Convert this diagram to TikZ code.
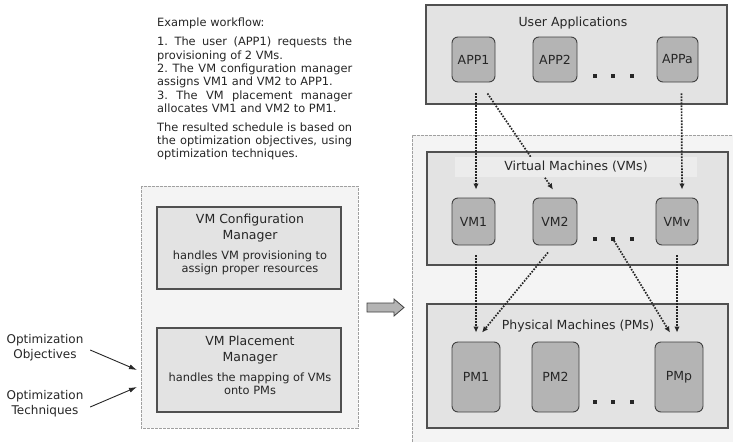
\documentclass[tikz,border=0pt]{standalone}
\usepackage{fontspec}
\setmainfont{DejaVu Sans}
\usetikzlibrary{arrows.meta}
\definecolor{contfill}{HTML}{F4F4F4}
\definecolor{contline}{HTML}{A0A0A0}
\definecolor{panelfill}{HTML}{E3E3E3}
\definecolor{panelline}{HTML}{505050}
\definecolor{bandfill}{HTML}{ECECEC}
\definecolor{itemfill}{HTML}{B4B4B4}
\definecolor{itemline}{HTML}{404040}
\frenchspacing
\begin{document}
\begin{tikzpicture}[x=1pt,y=-1pt,
 container/.style={fill=contfill, draw=contline, line width=0.8pt, dash pattern=on 3pt off 1pt},
 panel/.style={draw=panelline, fill=panelfill, line width=1.2pt, inner sep=0pt},
 item/.style={draw=itemline, fill=itemfill, line width=0.9pt, rounded corners=6pt, inner sep=0pt, font=\fontsize{12.5}{15}\selectfont, text=black!85},
 ttl/.style={font=\fontsize{12.5}{15.5}\selectfont, align=center, inner sep=0pt, text=black!85},
 body/.style={font=\fontsize{11.4}{13.3}\selectfont, align=center, inner sep=0pt, text=black!85},
 wf/.style={font=\fontsize{11.4}{13.4}\selectfont, anchor=base west, inner sep=0pt, text=black!85},
 sq/.style={fill=black!85, minimum size=3.2pt, inner sep=0pt},
 flow/.style={line width=1.7pt, black!85, dash pattern=on 1.6pt off 1.4pt, -{Latex[length=6pt,width=5.5pt]}},
 lab/.style={font=\fontsize{12}{15}\selectfont, align=center, inner sep=2pt, text=black!85},
 inarrow/.style={line width=0.9pt, black!85, -{Latex[length=8pt,width=5pt]}}
]
\useasboundingbox (0,0) rectangle (733,442);
\fill[white] (0,0) rectangle (733,442);

% ---------- workflow text ----------
\node[wf] (w0) at (157,26.7) {Example workflow:};
\node[wf] (w1) at (157,45.7) {\makebox[195pt][s]{1. The user (APP1) requests the}};
\node[wf] (w2) at (157,59.1) {provisioning of 2 VMs.};
\node[wf] (w3) at (157,72.5) {\makebox[195pt][s]{2. The VM configuration manager}};
\node[wf] (w4) at (157,85.9) {assigns VM1 and VM2 to APP1.};
\node[wf] (w5) at (157,99.3) {\makebox[195pt][s]{3. The VM placement manager}};
\node[wf] (w6) at (157,112.7) {allocates VM1 and VM2 to PM1.};
\node[wf] (w7) at (157,131) {\makebox[195pt][s]{The resulted schedule is based on}};
\node[wf] (w8) at (157,144.4) {\makebox[195pt][s]{the optimization objectives, using}};
\node[wf] (w9) at (157,157.8) {optimization techniques.};

% ---------- left container ----------
\draw[container] (141,186) rectangle (358,428);
\node[panel, minimum width=184pt, minimum height=82pt] (cfg) at (249,248) {};
\node[ttl] (cfgt) at (250,228) {VM Configuration\\Manager};
\node[body] (cfgb) at (250,262.5) {handles VM provisioning to\\assign proper resources};
\node[panel, minimum width=184pt, minimum height=84pt] (plc) at (249,370) {};
\node[ttl] (plct) at (250,350) {VM Placement\\Manager};
\node[body] (plcb) at (250,384) {handles the mapping of VMs\\onto PMs};

% ---------- optimization inputs ----------
\node[lab] (obj) at (45,348) {Optimization\\Objectives};
\node[lab] (tech) at (45,404) {Optimization\\Techniques};
\coordinate (objtip) at (137,370);
\coordinate (techtip) at (137,387);
\draw[inarrow] ([shift={(4.6,2)}]obj.east) -- (objtip);
\draw[inarrow] ([shift={(4.6,3)}]tech.east) -- (techtip);

% ---------- big hollow arrow ----------
\draw[fill=itemfill, draw=itemline, line width=0.8pt] (367,303) -- (394,303) -- (394,299) -- (404,307.5) -- (394,316) -- (394,312) -- (367,312) -- cycle;

% ---------- right container ----------
\fill[contfill] (412,135) rectangle (733,442);
\draw[contline, line width=0.8pt, dash pattern=on 3pt off 1pt] (412,442) -- (412,135) -- (733,135);

% User applications
\node[panel, minimum width=301pt, minimum height=99pt] (UA) at (576.5,54.5) {};
\node[ttl] (UAt) at (573,23) {User Applications};
\node[item, minimum width=43pt, minimum height=45pt] (APP1) at (473.5,59.5) {APP1};
\node[item, minimum width=44pt, minimum height=45pt] (APP2) at (555,59.5) {APP2};
\node[item, minimum width=41pt, minimum height=45pt] (APPa) at (677.5,59.5) {APPa};
\node[sq] (ad1) at (595,76) {};
\node[sq] (ad2) at (613,76) {};
\node[sq] (ad3) at (632,76) {};

% Virtual machines
\node[panel, minimum width=301pt, minimum height=113pt] (VMP) at (577.5,208.5) {};
\node[item, minimum width=43pt, minimum height=47pt] (VM1) at (473.5,221.5) {VM1};
\node[item, minimum width=44pt, minimum height=47pt] (VM2) at (555,221.5) {VM2};
\node[item, minimum width=42pt, minimum height=47pt] (VMv) at (677,221.5) {VMv};
\node[sq] (vd1) at (595,239) {};
\node[sq] (vd2) at (613,239) {};
\node[sq] (vd3) at (632,239) {};

% Physical machines
\node[panel, minimum width=301pt, minimum height=124pt] (PMP) at (577.5,366) {};
\node[ttl] (PMt) at (578,326) {Physical Machines (PMs)};
\node[item, minimum width=48pt, minimum height=70pt] (PM1) at (476,377) {PM1};
\node[item, minimum width=47pt, minimum height=70pt] (PM2) at (555.5,377) {PM2};
\node[item, minimum width=48pt, minimum height=70pt] (PMp) at (679,377) {PMp};
\node[sq] (pd1) at (595,402) {};
\node[sq] (pd2) at (613,402) {};
\node[sq] (pd3) at (632,402) {};

% diagonal APP1 -> VM2 (partly hidden by the title band)
\draw[flow] ([shift={(-8,11)}]APP1.south east) -- ([shift={(-2,-8)}]VM2.north);
\fill[bandfill] (455,157) rectangle (697,177);
\node[ttl] (VMt) at (576,167) {Virtual Machines (VMs)};

% remaining flows
\draw[flow] ([shift={(2.5,11)}]APP1.south) -- ([shift={(2.5,-8)}]VM1.north);
\draw[flow] ([shift={(4,11)}]APPa.south) -- ([shift={(5,-8)}]VMv.north);
\draw[flow] ([shift={(2.5,10)}]VM1.south) -- ([shift={(0,-9)}]PM1.north);
\draw[flow] ([shift={(-7,7)}]VM2.south) -- ([shift={(6,-9)}]PM1.north);
\draw[flow] ([shift={(12,16)}]vd2) -- ([shift={(-9,-9)}]PMp.north);
\draw[flow] ([shift={(0,10)}]VMv.south) -- ([shift={(-2,-9)}]PMp.north);
\end{tikzpicture}
\end{document}
